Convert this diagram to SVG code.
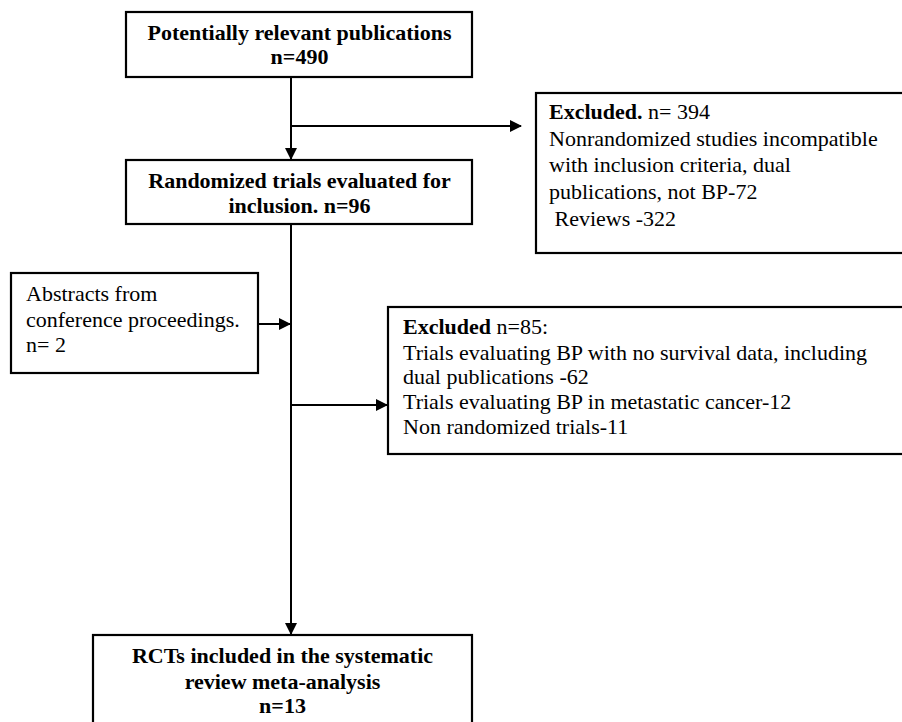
<svg xmlns="http://www.w3.org/2000/svg" width="902" height="722" viewBox="0 0 902 722">
<style>
.box{fill:#fff;stroke:#000;stroke-width:2.2}
.t{font-family:"Liberation Serif","Times New Roman",serif;font-size:22px;fill:#000}
.b{font-weight:bold}
.c{text-anchor:middle}
.ln{fill:none;stroke:#000;stroke-width:2}
</style>
<defs>
<marker id="ah" markerWidth="12" markerHeight="12" refX="11" refY="6" orient="auto" markerUnits="userSpaceOnUse">
<path d="M0,0 L12,6 L0,12 Z" fill="#000"/>
</marker>
</defs>
<rect width="902" height="722" fill="#fff"/>
<g id="connectors">
<line class="ln" x1="291" y1="77" x2="291" y2="159" marker-end="url(#ah)"/>
<line class="ln" x1="291" y1="126" x2="521" y2="126" marker-end="url(#ah)"/>
<line class="ln" x1="291" y1="224" x2="291" y2="634" marker-end="url(#ah)"/>
<line class="ln" x1="258" y1="324" x2="290" y2="324" marker-end="url(#ah)"/>
<line class="ln" x1="291" y1="405" x2="387" y2="405" marker-end="url(#ah)"/>
</g>
<g id="n1">
<rect class="box" x="126" y="12" width="346" height="65"/>
<text class="t b c" x="299.5" y="40">Potentially relevant publications</text>
<text class="t b c" x="299.5" y="64">n=490</text>
</g>
<g id="n2">
<rect class="box" x="126" y="160" width="346" height="64"/>
<text class="t b c" x="299.5" y="188">Randomized trials evaluated for</text>
<text class="t b c" x="299.5" y="213">inclusion. n=96</text>
</g>
<g id="ex1">
<rect class="box" x="536" y="93" width="380" height="160"/>
<text class="t" x="549" y="119"><tspan class="b">Excluded.</tspan> n= 394</text>
<text class="t" x="549" y="146">Nonrandomized studies incompatible</text>
<text class="t" x="549" y="172">with inclusion criteria, dual</text>
<text class="t" x="549" y="199">publications, not BP-72</text>
<text class="t" x="549" y="226" xml:space="preserve"> Reviews -322</text>
</g>
<g id="abs">
<rect class="box" x="11" y="273" width="247" height="100"/>
<text class="t" x="26" y="301">Abstracts from</text>
<text class="t" x="26" y="327">conference proceedings.</text>
<text class="t" x="26" y="352">n= 2</text>
</g>
<g id="ex2">
<rect class="box" x="388" y="307" width="530" height="147"/>
<text class="t" x="403" y="334"><tspan class="b">Excluded</tspan> n=85:</text>
<text class="t" x="403" y="360">Trials evaluating BP with no survival data, including</text>
<text class="t" x="403" y="384">dual publications -62</text>
<text class="t" x="403" y="409">Trials evaluating BP in metastatic cancer-12</text>
<text class="t" x="403" y="434">Non randomized trials-11</text>
</g>
<g id="n3">
<rect class="box" x="93" y="635" width="379" height="100"/>
<text class="t b c" x="282.5" y="663">RCTs included in the systematic</text>
<text class="t b c" x="282.5" y="689">review meta-analysis</text>
<text class="t b c" x="282.5" y="713">n=13</text>
</g>
</svg>
